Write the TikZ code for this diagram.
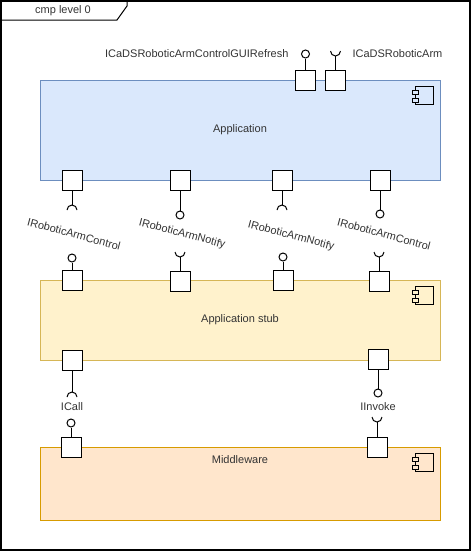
\documentclass[tikz,border=0pt]{standalone}
\usepackage{fontspec}
\setmainfont{Liberation Sans}
\usetikzlibrary{calc}
\definecolor{appfill}{HTML}{DAE8FC}
\definecolor{appline}{HTML}{6C8EBF}
\definecolor{stubfill}{HTML}{FFF2CC}
\definecolor{stubline}{HTML}{D6B656}
\definecolor{mwfill}{HTML}{FFE6CC}
\definecolor{mwline}{HTML}{D79B00}
\definecolor{txt}{HTML}{333333}
\begin{document}
\begin{tikzpicture}[x=1pt,y=-1pt,line width=1pt,
  every node/.style={font=\fontsize{11}{13}\selectfont,text=txt},
  comp/.style={draw,rectangle,minimum width=400pt,inner sep=0pt},
  port/.style={draw=black,fill=white,rectangle,minimum size=20pt,inner sep=0pt},
  lolli/.style={draw=black,fill=white,circle,minimum size=8pt,inner sep=0pt},
  iflabel/.style={rotate=-15,inner sep=0pt},
  plain/.style={inner sep=0pt},
  compicon/.pic={
    \draw[line width=1pt] (-25,7) rectangle (-7,25);
    \draw[line width=1pt,pic actions] (-28,11) rectangle (-22,15);
    \draw[line width=1pt,pic actions] (-28,19) rectangle (-22,23);
  }]
\useasboundingbox (0,0) rectangle (472,552);
% frame
\draw[line width=1.3pt] (1,1) rectangle (470,550);
\draw[line width=1pt] (1,20) -- (117,20) -- (127,6) -- (127,1);
\node[plain] (title) at (63,11) {cmp level 0};
% components
\node[comp,fill=appfill,draw=appline,minimum height=100pt] (app) at (240,130) {};
\node[plain] (applbl) at (240,130) {Application};
\pic[fill=appfill] at (app.north east) {compicon};
\node[comp,fill=stubfill,draw=stubline,minimum height=80pt] (stub) at (240,320) {};
\node[plain] (stublbl) at (240,320) {Application stub};
\pic[fill=stubfill] at (stub.north east) {compicon};
\node[comp,fill=mwfill,draw=mwline,minimum height=73pt] (mw) at (240,483.5) {};
\node[plain] (mwlbl) at (240,460) {Middleware};
\pic[fill=mwfill] at (mw.north east) {compicon};
% Application top ports
\node[port] (at1) at (305.5,80) {};
\node[port] (at2) at (335.5,80) {};
\node[lolli] (tl1) at (305.5,54) {};
\draw (at1.north) -- (tl1.south);
\coordinate (ts2) at (335.5,56);
\draw (at2.north) -- (ts2);
\draw ($(ts2)+(-5,-5)$) arc[start angle=180,end angle=0,radius=5];
\node[plain,anchor=east] (lblgui) at (289,54) {ICaDSRoboticArmControlGUIRefresh};
\node[plain,anchor=west] (lblarm) at (352,54) {ICaDSRoboticArm};
% Application bottom ports
\node[port] (ap1) at (72,180) {};
\node[port] (ap2) at (180,180) {};
\node[port] (ap3) at (282,180) {};
\node[port] (ap4) at (380,180) {};
\coordinate (as1) at (72,205);
\draw (ap1.south) -- (as1);
\draw ($(as1)+(-5,5)$) arc[start angle=180,end angle=360,radius=5];
\node[lolli] (al2) at (180,215) {};
\draw (ap2.south) -- (al2.north);
\coordinate (as3) at (282,205);
\draw (ap3.south) -- (as3);
\draw ($(as3)+(-5,5)$) arc[start angle=180,end angle=360,radius=5];
\node[lolli] (al4) at (380,214) {};
\draw (ap4.south) -- (al4.north);
% interface labels
\node[iflabel] (if1) at (74,234) {IRoboticArmControl};
\node[iflabel] (if2) at (182,234) {IRoboticArmNotify};
\node[iflabel] (if3) at (291,236) {IRoboticArmNotify};
\node[iflabel] (if4) at (384,234) {IRoboticArmControl};
% Stub top ports
\node[port] (sp1) at (72,280) {};
\node[port] (sp2) at (180,281) {};
\node[port] (sp3) at (283,280) {};
\node[port] (sp4) at (379,281) {};
\node[lolli] (sl1) at (72,258) {};
\draw (sp1.north) -- (sl1.south);
\coordinate (ss2) at (180,257);
\draw (sp2.north) -- (ss2);
\draw ($(ss2)+(-5,-5)$) arc[start angle=180,end angle=0,radius=5];
\node[lolli] (sl3) at (283,257) {};
\draw (sp3.north) -- (sl3.south);
\coordinate (ss4) at (379,257);
\draw (sp4.north) -- (ss4);
\draw ($(ss4)+(-5,-5)$) arc[start angle=180,end angle=0,radius=5];
% Stub bottom ports
\node[port] (sb1) at (72,360) {};
\node[port] (sb2) at (378,359) {};
\coordinate (bs1) at (72,392);
\draw (sb1.south) -- (bs1);
\draw ($(bs1)+(-5,5)$) arc[start angle=180,end angle=360,radius=5];
\node[lolli] (bl2) at (378,393) {};
\draw (sb2.south) -- (bl2.north);
\node[plain] (icall) at (72,407) {ICall};
\node[plain] (iinvoke) at (378,407) {IInvoke};
% Middleware ports
\node[port] (mp1) at (71,447) {};
\node[port] (mp2) at (377,447) {};
\node[lolli] (ml1) at (71,423) {};
\draw (mp1.north) -- (ml1.south);
\coordinate (ms2) at (377,422);
\draw (mp2.north) -- (ms2);
\draw ($(ms2)+(-5,-5)$) arc[start angle=180,end angle=0,radius=5];
\end{tikzpicture}
\end{document}
